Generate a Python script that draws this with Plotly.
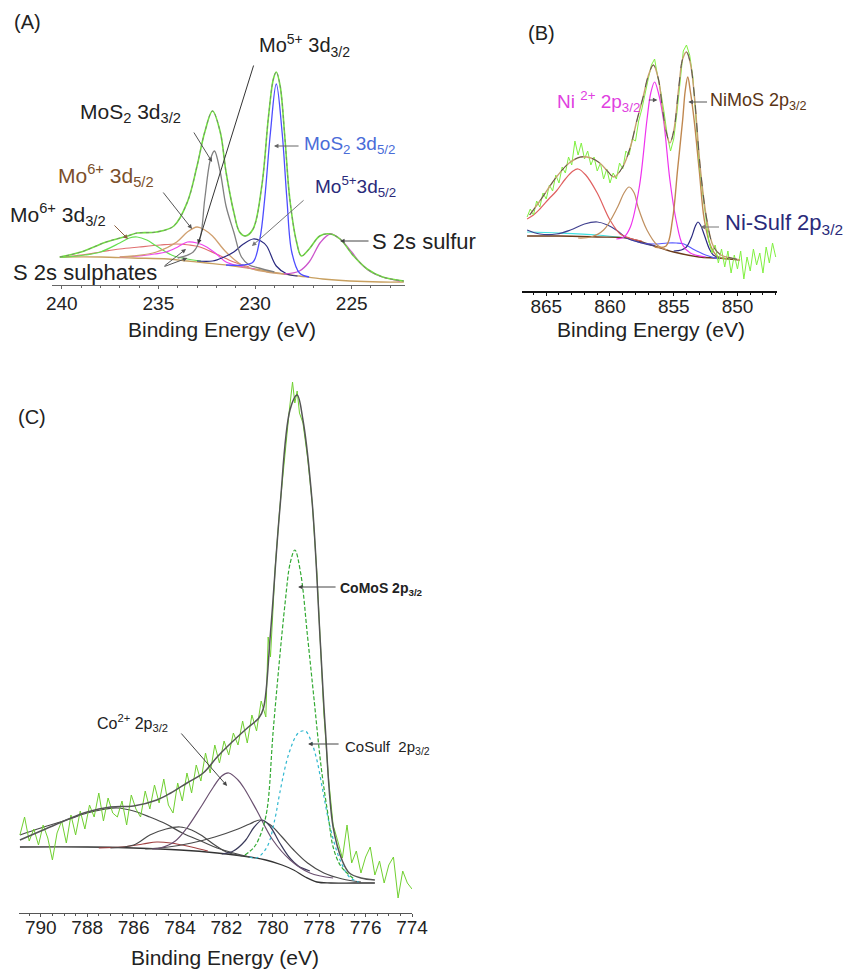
import plotly.graph_objects as go

# the page body keeps an 8 px margin, so the figure is drawn 8 px in from the window corner
OFF = 8
W, H = 854 - OFF, 973 - OFF
FONT = "Liberation Sans, Arial, sans-serif"

# ---------------- Panel A : Mo 3d / S 2s ----------------
A_env_x = [240.1, 239.0, 237.7, 236.6, 236.1, 235.1, 234.2, 233.5, 233.0, 232.6, 232.2, 231.8, 231.5, 231.1,
           230.8, 230.5, 230.1, 229.65, 229.3, 229.05, 228.9, 228.7, 228.45, 228.2, 227.85, 227.6, 227.2,
           226.65, 226.1, 225.6, 224.9, 224.2, 223.4, 222.3]
A_env_y = [28, 33, 43, 49, 52, 53, 59, 83, 119, 153, 174, 153, 113, 73, 53, 49, 56, 99, 169, 206, 213, 199,
           146, 86, 43, 29, 36, 49, 51, 46, 29, 16, 8, 4]
A_bg_x = [240.1, 238.0, 236.3, 234.5, 233.5, 232.5, 231.1, 230.0, 229.4, 228.5, 227.7, 226.5, 225.1, 223.5, 222.3]
A_bg_y = [28, 28, 27, 26, 24, 22, 19, 16, 14, 11, 9, 6, 4, 3, 3]
A_mos2_52_x = [231.5, 230.6, 230.1, 229.75, 229.5, 229.2, 228.9, 228.6, 228.35, 228.1, 227.7, 227.2]
A_mos2_52_y = [20, 20, 23, 46, 86, 153, 201, 153, 86, 33, 12, 8]
A_mos2_32_x = [234.0, 233.2, 232.85, 232.6, 232.3, 232.1, 231.8, 231.5, 231.1, 230.7, 230.3, 229.8, 229.0]
A_mos2_32_y = [27, 33, 46, 86, 126, 134, 113, 79, 53, 28, 20, 17, 13]
A_mo5_52_x = [233.0, 232.2, 231.6, 231.1, 230.6, 230.1, 229.7, 229.4, 228.9, 228.35, 227.8]
A_mo5_52_y = [24, 24, 28, 33, 41, 46, 44, 39, 19, 11, 9]
A_mo6_52_x = [237.0, 236.3, 235.1, 234.05, 233.5, 233.0, 232.6, 232.2, 231.5, 230.6, 229.4, 228.5]
A_mo6_52_y = [28, 29, 33, 43, 53, 58, 55, 49, 33, 19, 13, 11]
A_mo6_32_x = [240.1, 239.7, 238.8, 238.0, 237.0, 236.5, 236.1, 235.6, 235.1, 234.2, 233.5, 232.8]
A_mo6_32_y = [28, 28, 30, 33, 42, 47, 48, 45, 39, 29, 26, 24]
A_mo5_32_x = [237.0, 236.0, 235.2, 234.6, 234.0, 233.5, 233.0, 232.5, 232.0, 231.5, 230.8, 230.0]
A_mo5_32_y = [28, 29, 31, 33, 38, 43, 42, 38, 31, 23, 19, 16]
A_sulph_x = [240.0, 239.0, 238.0, 237.0, 236.0, 234.9, 234.05, 233.4, 232.85, 232.0, 231.1, 230.3]
A_sulph_y = [28, 30, 33, 36, 38, 40, 41, 40, 38, 31, 23, 18]
A_s2s_x = [228.5, 227.7, 227.2, 226.6, 226.1, 225.6, 225.0, 224.6, 224.0, 223.4, 222.5]
A_s2s_y = [11, 14, 23, 43, 51, 46, 33, 23, 13, 8, 4]
A_ticks = [240, 235, 230, 225]

# ---------------- Panel B : Ni 2p ----------------
B_data_x = [866.5, 866.25, 866.0, 865.75, 865.5, 865.25, 865.0, 864.75, 864.5, 864.25, 864.0, 863.75, 863.5,
            863.25, 863.0, 862.75, 862.5, 862.25, 862.0, 861.75, 861.5, 861.25, 861.0, 860.75, 860.5, 860.25,
            860.0, 859.75, 859.5, 859.25, 859.0, 858.75, 858.5, 858.25, 858.0, 857.75, 857.5, 857.25, 857.0,
            856.75, 856.5, 856.25, 856.0, 855.75, 855.5, 855.25, 855.0, 854.75, 854.5, 854.25, 854.0, 853.75,
            853.5, 853.25, 853.0, 852.75, 852.5, 852.25, 852.0, 851.75, 851.5, 851.25, 851.0, 850.75, 850.5,
            850.25, 850.0, 849.75, 849.5, 849.25, 849.0, 848.75, 848.5, 848.25, 848.0, 847.75, 847.5, 847.25, 847.0]
B_data_y = [74, 82, 76, 90, 84, 98, 92, 106, 100, 116, 108, 124, 118, 134, 126, 150, 136, 148, 132, 140, 126,
            134, 120, 128, 112, 122, 108, 118, 112, 128, 122, 140, 136, 152, 150, 170, 182, 198, 212, 226, 232,
            214, 198, 178, 155, 140, 152, 178, 212, 240, 246, 236, 214, 170, 128, 100, 72, 50, 38, 46, 28, 42,
            24, 40, 18, 36, 22, 40, 12, 34, 20, 42, 26, 38, 18, 44, 28, 48, 34]
B_env_x = [866.3, 865.5, 864.2, 863.2, 862.3, 861.5, 860.8, 860.2, 859.7, 859.0, 858.4, 857.9, 857.4, 857.0,
           856.6, 856.2, 855.9, 855.6, 855.3, 855.0, 854.6, 854.3, 854.0, 853.7, 853.4, 852.9, 852.4, 851.9,
           851.3, 850.5, 849.8]
B_env_y = [76, 90, 114, 128, 134, 133, 128, 120, 114, 124, 144, 170, 194, 215, 226, 212, 184, 160, 148, 160,
           204, 232, 239, 228, 198, 121, 71, 45, 36, 33, 31]
B_bg_x = [866.5, 864.0, 861.0, 858.7, 857.0, 855.0, 853.0, 851.6, 849.8]
B_bg_y = [55, 55, 54, 53, 47, 39, 34, 33, 31]
B_ni2_x = [859.5, 858.9, 858.4, 857.7, 857.1, 856.8, 856.5, 856.2, 855.8, 855.3, 854.8, 854.3, 853.7, 852.5]
B_ni2_y = [52, 54, 64, 104, 171, 198, 209, 198, 171, 111, 70, 46, 38, 34]
B_nimos_x = [856.5, 855.6, 855.1, 854.7, 854.3, 854.1, 853.9, 853.7, 853.4, 853.0, 852.6, 852.1, 851.6, 850.8]
B_nimos_y = [44, 45, 71, 121, 171, 200, 214, 200, 171, 121, 71, 45, 35, 32]
B_sat1_x = [862.5, 861.5, 860.5, 859.4, 858.9, 858.5, 858.1, 857.8, 857.1, 856.3, 855.5]
B_sat1_y = [53, 54, 61, 84, 98, 104, 98, 84, 61, 46, 41]
B_sat2_x = [866.5, 866.0, 865.5, 864.8, 864.2, 863.5, 862.9, 862.5, 861.9, 861.0, 860.0, 859.2, 858.5, 857.5]
B_sat2_y = [72, 76, 82, 92, 100, 112, 120, 122, 116, 98, 71, 57, 53, 50]
B_sat3_x = [866.5, 865.5, 864.2, 863.1, 862.0, 861.0, 860.2, 859.4, 858.7, 857.5, 856.5]
B_sat3_y = [61, 57, 57, 61, 67, 69, 66, 60, 53, 48, 45]
B_nisulf_x = [855.0, 854.4, 854.0, 853.6, 853.3, 853.1, 852.9, 852.6, 852.2, 851.9, 851.3]
B_nisulf_y = [40, 41, 44, 54, 65, 69, 66, 56, 42, 36, 33]
B_blue_x = [858.5, 857.5, 856.5, 855.5, 854.8, 854.2, 853.5, 852.5, 851.5]
B_blue_y = [52, 48, 47, 48, 48, 47, 42, 36, 32]
B_cyan_x = [866.5, 864.0, 861.0, 858.7]
B_cyan_y = [59, 58, 56, 53]
B_ticks = [865, 860, 855, 850]

# ---------------- Panel C : Co 2p ----------------
C_data_x = [790.9, 790.7, 790.5, 790.3, 790.1, 789.9, 789.7, 789.5, 789.3, 789.1, 788.9, 788.7, 788.5, 788.3,
            788.1, 787.9, 787.7, 787.5, 787.3, 787.1, 786.9, 786.7, 786.5, 786.3, 786.1, 785.9, 785.7, 785.5,
            785.3, 785.1, 784.9, 784.7, 784.5, 784.3, 784.1, 783.9, 783.7, 783.5, 783.3, 783.1, 782.9, 782.7,
            782.5, 782.3, 782.1, 781.9, 781.7, 781.5, 781.3, 781.1, 780.9, 780.7, 780.5, 780.3, 780.2, 780.1,
            780.0, 779.9, 779.7, 779.5, 779.3, 779.15, 779.05, 778.95, 778.85, 778.7, 778.5, 778.3, 778.1,
            777.95, 777.8, 777.6, 777.4, 777.2, 777.0, 776.8, 776.6, 776.4, 776.2, 776.0, 775.8, 775.6, 775.4,
            775.2, 775.0, 774.8, 774.6, 774.4, 774.2, 774.0]
C_data_y = [78, 96, 72, 84, 68, 88, 75, 53, 80, 92, 70, 98, 78, 102, 84, 108, 96, 120, 92, 115, 100, 96, 112,
            88, 118, 104, 96, 122, 104, 128, 110, 134, 108, 100, 130, 112, 140, 120, 148, 132, 160, 140, 168,
            150, 172, 158, 180, 168, 192, 170, 198, 182, 212, 196, 276, 256, 300, 345, 405, 455, 500, 531, 510,
            522, 500, 490, 455, 410, 340, 270, 200, 135, 88, 72, 55, 88, 50, 62, 40, 56, 66, 38, 52, 30, 48, 56,
            15, 42, 30, 24]
C_env_x = [790.9, 790.0, 789.0, 788.0, 787.0, 786.0, 785.0, 784.4, 783.7, 783.0, 782.4, 781.8, 781.05, 780.6,
           780.4, 780.1, 779.7, 779.26, 778.95, 778.7, 778.3, 777.95, 777.74, 777.4, 777.0, 776.7, 776.2, 775.6]
C_env_y = [73, 82, 92, 101, 106, 107, 113, 120, 130, 140, 156, 170, 186, 195, 205, 280, 403, 503, 518, 493,
           410, 270, 186, 86, 52, 40, 35, 33]
C_bg_x = [790.9, 788.0, 786.0, 784.0, 782.4, 781.0, 780.3, 779.6, 779.1, 778.6, 778.1, 777.5, 776.5, 775.6]
C_bg_y = [66, 66, 65, 63, 60, 56, 53, 48, 43, 36, 31, 30, 30, 30]
C_comos_x = [781.2, 780.8, 780.5, 780.25, 779.97, 779.47, 779.25, 779.05, 778.8, 778.5, 778.25, 777.9, 777.6,
             777.4, 777.1, 776.8, 776.5]
C_comos_y = [58, 66, 80, 103, 186, 310, 350, 363, 340, 276, 220, 143, 95, 66, 48, 40, 34]
C_cosulf_x = [781.0, 780.7, 780.25, 779.9, 779.7, 779.3, 778.9, 778.6, 778.35, 778.1, 777.85, 777.6, 777.35,
              777.1, 776.7, 776.3]
C_cosulf_y = [56, 55, 66, 95, 120, 160, 180, 182, 172, 153, 123, 93, 70, 53, 36, 31]
C_co2_x = [785.2, 784.85, 784.2, 783.7, 783.1, 782.56, 782.2, 781.9, 781.5, 781.27, 780.7, 780.0, 779.25,
           778.4, 777.4]
C_co2_y = [64, 65, 72, 85, 106, 126, 137, 140, 133, 126, 103, 73, 53, 40, 35]
C_p1_x = [785.5, 784.5, 783.5, 782.5, 781.5, 781.0, 780.55, 780.1, 779.6, 779.1, 778.5, 777.8, 777.0, 776.2]
C_p1_y = [64, 66, 70, 76, 84, 89, 93, 88, 76, 63, 50, 40, 34, 31]
C_p2_x = [782.2, 781.7, 781.2, 780.8, 780.45, 780.1, 779.7, 779.3, 778.9, 778.4]
C_p2_y = [59, 62, 72, 86, 93, 86, 70, 56, 47, 42]
C_p3_x = [787.0, 786.0, 785.3, 784.6, 784.0, 783.5, 783.1, 782.5, 782.0, 781.3]
C_p3_y = [65, 68, 78, 84, 86, 83, 78, 68, 61, 57]
C_p4_x = [790.9, 790.0, 788.9, 788.0, 787.2, 786.7, 786.0, 785.3, 784.6, 783.9, 783.0, 782.4, 781.7, 781.0]
C_p4_y = [78, 85, 93, 100, 104, 105, 102, 96, 89, 80, 71, 65, 60, 56]
C_p5_x = [787.5, 786.5, 785.6, 785.0, 784.4, 783.5, 782.8]
C_p5_y = [65, 66, 69, 71, 70, 66, 62]
C_ticks = [790, 788, 786, 784, 782, 780, 778, 776, 774]

fig = go.Figure()


def fx(p):
    return (p - OFF) / W


def fy(p):
    return 1 - (p - OFF) / H


def line(xs, ys, color, width=1.2, dash="solid", ax="", shape="spline"):
    fig.add_trace(go.Scatter(x=xs, y=ys, mode="lines", xaxis="x" + ax, yaxis="y" + ax,
                             line=dict(color=color, width=width, dash=dash, shape=shape),
                             showlegend=False, hoverinfo="skip"))


# Panel A traces
line(A_bg_x, A_bg_y, "#c8a060", 1.3)
line(A_sulph_x, A_sulph_y, "#e07070", 1.2)
line(A_mo6_32_x, A_mo6_32_y, "#66e050", 1.2)
line(A_mo5_32_x, A_mo5_32_y, "#ee44ee", 1.2)
line(A_mo6_52_x, A_mo6_52_y, "#d0a070", 1.3)
line(A_mo5_52_x, A_mo5_52_y, "#2b2b80", 1.2)
line(A_mos2_32_x, A_mos2_32_y, "#808080", 1.3)
line(A_s2s_x, A_s2s_y, "#cc55cc", 1.3)
line(A_mos2_52_x, A_mos2_52_y, "#4d4dff", 1.3)
line(A_env_x, A_env_y, "#70e040", 1.6)
line(A_env_x, A_env_y, "#777777", 0.8, dash="dot")

# Panel B traces
line(B_cyan_x, B_cyan_y, "#40e0e0", 1.1, ax="2")
line(B_bg_x, B_bg_y, "#6a3a1a", 1.4, ax="2")
line(B_blue_x, B_blue_y, "#5a5aff", 1.1, ax="2")
line(B_sat3_x, B_sat3_y, "#40408f", 1.2, ax="2")
line(B_sat2_x, B_sat2_y, "#e06060", 1.2, ax="2")
line(B_sat1_x, B_sat1_y, "#c09060", 1.2, ax="2")
line(B_nisulf_x, B_nisulf_y, "#2a2a80", 1.2, ax="2")
line(B_ni2_x, B_ni2_y, "#ee33ee", 1.2, ax="2")
line(B_nimos_x, B_nimos_y, "#c08850", 1.4, ax="2")
line(B_data_x, B_data_y, "#80f040", 1.0, ax="2", shape="linear")
line(B_env_x, B_env_y, "#c8a070", 1.4, ax="2")
line(B_env_x, B_env_y, "#555555", 1.0, dash="dash", ax="2")

# Panel C traces
line(C_bg_x, C_bg_y, "#333333", 1.3, ax="3")
line(C_p5_x, C_p5_y, "#a04040", 1.1, ax="3")
line(C_p4_x, C_p4_y, "#4a4a4a", 1.2, ax="3")
line(C_p3_x, C_p3_y, "#4a4a4a", 1.2, ax="3")
line(C_p1_x, C_p1_y, "#4a4a4a", 1.2, ax="3")
line(C_p2_x, C_p2_y, "#3a3a5a", 1.2, ax="3")
line(C_co2_x, C_co2_y, "#6a5070", 1.2, ax="3")
line(C_cosulf_x, C_cosulf_y, "#30b8d0", 1.2, dash="dot", ax="3")
line(C_comos_x, C_comos_y, "#33aa33", 1.2, dash="4px,2px", ax="3")
line(C_data_x, C_data_y, "#70d030", 1.0, ax="3", shape="linear")
line(C_env_x, C_env_y, "#555555", 1.5, ax="3")


def xaxis(dom, rng, ticks, minor, lc, lw, tl, standoff):
    return dict(domain=[fx(dom[0]), fx(dom[1])], range=rng, tickmode="array", tickvals=ticks,
                ticktext=[str(t) for t in ticks], showgrid=False, zeroline=False, showline=True,
                linecolor=lc, linewidth=lw, ticks="outside", ticklen=tl, tickcolor=lc, tickwidth=1,
                ticklabelstandoff=standoff, automargin=False,
                minor=dict(dtick=minor, ticks="outside", ticklen=2, tickcolor=lc, showgrid=False),
                tickfont=dict(family=FONT, size=19, color="#222"), fixedrange=True)


def yaxis(dom, rng, anchor):
    return dict(domain=[fy(dom[1]), fy(dom[0])], range=rng, visible=False, anchor=anchor,
                automargin=False, fixedrange=True)


annotations = []


def text(t, xp, yp, size, color="#222", xanchor="left"):
    annotations.append(dict(text=t, x=fx(xp), y=fy(yp), xref="paper", yref="paper", showarrow=False,
                            xanchor=xanchor, yanchor="middle", font=dict(family=FONT, size=size, color=color)))


def arrow(ax_, hx, hy, tx, ty, color="#555"):
    annotations.append(dict(text="", x=hx, y=hy, ax=tx, ay=ty, xref="x" + ax_, yref="y" + ax_,
                            axref="x" + ax_, ayref="y" + ax_, showarrow=True, arrowhead=2, arrowsize=0.9,
                            arrowwidth=1, arrowcolor=color))


# Panel A labels
text("(A)", 27, 22, 20, xanchor="center")
text("Mo<sup>5+</sup> 3d<sub>3/2</sub>", 257, 45, 20)
text("MoS<sub>2</sub> 3d<sub>3/2</sub>", 78, 113, 21)
text("Mo<sup>6+</sup> 3d<sub>5/2</sub>", 56, 176, 21, "#7b4f2a")
text("Mo<sup>6+</sup> 3d<sub>3/2</sub>", 8, 214, 21)
text("S 2s sulphates", 11, 272, 22)
text("MoS<sub>2</sub> 3d<sub>5/2</sub>", 302, 145, 19, "#4a6cd8")
text("Mo<sup>5+</sup>3d<sub>5/2</sub>", 313, 186, 19, "#2a2a7a")
text("S 2s sulfur", 370, 241, 22)
text("Binding Energy (eV)", 222, 330, 21, xanchor="center")
arrow("", 232.95, 41, 230.05, 221, "#333")
arrow("", 232.22, 123, 233.21, 154, "#555")
arrow("", 233.26, 56, 234.81, 94, "#555")
arrow("", 236.57, 46, 237.35, 61, "#8b6040")
arrow("", 233.57, 36, 234.76, 18, "#555")
arrow("", 233.5, 27, 234.76, 18, "#555")
arrow("", 229.02, 139, 227.67, 139, "#666")
arrow("", 230.16, 39, 227.41, 86, "#777")
arrow("", 225.6, 44, 224.05, 44, "#444")

# Panel B labels
text("(B)", 541, 33, 20, xanchor="center")
text("Ni <sup>2+</sup> 2p<sub>3/2</sub>", 555, 101, 19, "#e040e0")
text("NiMoS 2p<sub>3/2</sub>", 708, 102, 18, "#5a3515")
text("Ni-Sulf 2p<sub>3/2</sub>", 723, 224, 22, "#2a2a7a")
text("Binding Energy (eV)", 651, 329, 21, xanchor="center")
arrow("2", 856.28, 191, 857.07, 191, "#555")
arrow("2", 853.85, 189, 852.27, 189, "#555")
arrow("2", 852.9, 64, 851.33, 64, "#777")

# Panel C labels
text("(C)", 32, 417, 20, xanchor="center")
text("<b>CoMoS 2p<sub>3/2</sub></b>", 338, 589, 14)
text("CoSulf  2p<sub>3/2</sub>", 343, 747, 15)
text("Co<sup>2+</sup> 2p<sub>3/2</sub>", 95, 723, 16)
text("Binding Energy (eV)", 225, 957, 21, xanchor="center")
arrow("3", 778.91, 326, 777.23, 326, "#444")
arrow("3", 778.48, 169, 777.1, 169, "#444")
arrow("3", 781.97, 127, 784.0, 181, "#444")

fig.update_layout(
    width=W, height=H, margin=dict(l=0, r=0, t=0, b=0, autoexpand=False),
    paper_bgcolor="white", plot_bgcolor="white", showlegend=False,
    xaxis=xaxis((51.7, 405), [240.52, 222.24], A_ticks, 1, "#666", 1, 3, -2),
    yaxis=yaxis((40, 285), [0, 245], "x"),
    xaxis2=xaxis((522, 777), [866.9, 846.9], B_ticks, 1, "#111", 2, 3, -6),
    yaxis2=yaxis((40, 291), [0, 251], "x2"),
    xaxis3=xaxis((19, 412), [790.94, 774.0], C_ticks, 0.5, "#555", 1.2, 3, -6),
    yaxis3=yaxis((370, 913), [0, 543], "x3"),
    annotations=annotations,
)
fig.layout.xaxis.anchor = "y"
fig.layout.xaxis2.anchor = "y2"
fig.layout.xaxis3.anchor = "y3"

fig.write_html("out.html")
